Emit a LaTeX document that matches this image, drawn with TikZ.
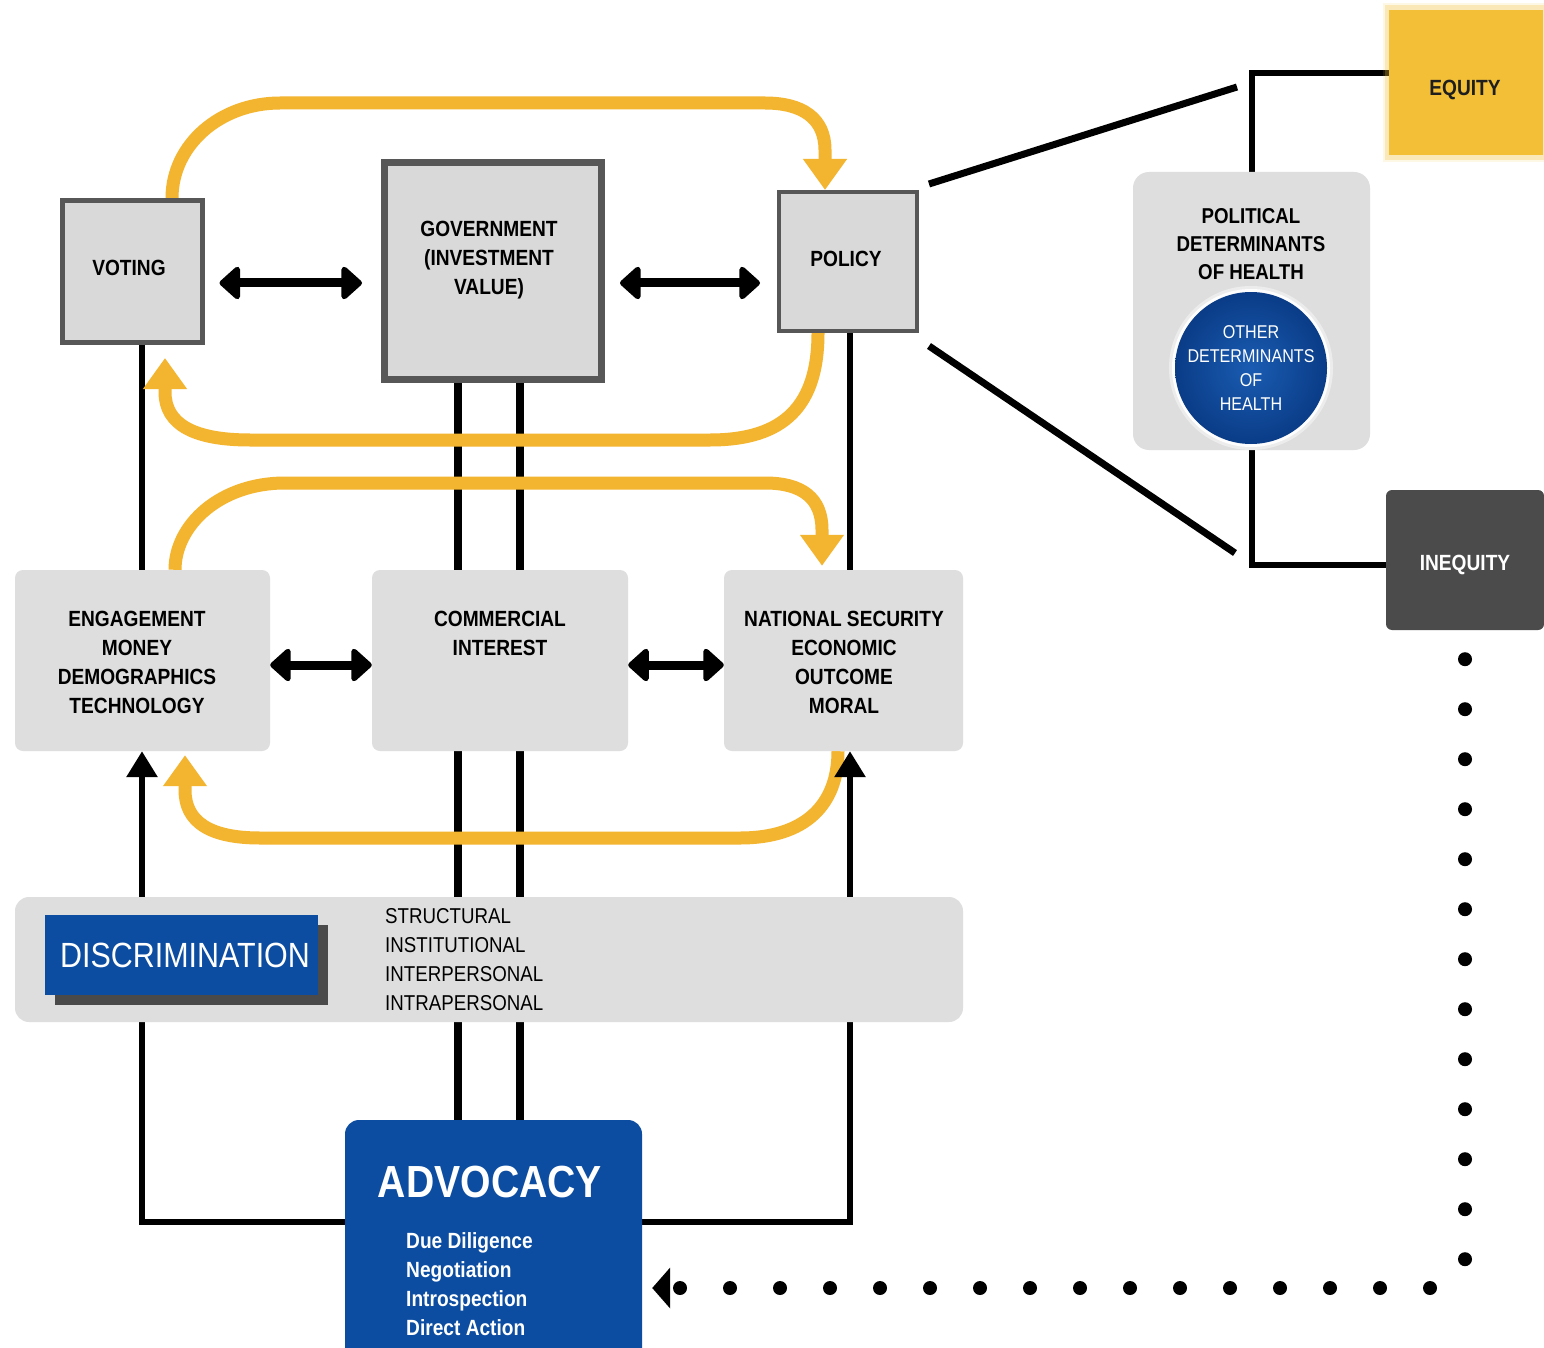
\documentclass[tikz,border=0pt]{standalone}
\usepackage{fontspec}
\setmainfont{Liberation Sans}[FakeStretch=0.87]
\usetikzlibrary{arrows.meta,shadows}
\definecolor{boxfill}{HTML}{D9D9D9}
\definecolor{boxline}{HTML}{575757}
\definecolor{panel}{HTML}{DEDEDE}
\definecolor{ylw}{HTML}{F3B52F}
\definecolor{eqy}{HTML}{F3BF36}
\definecolor{blu}{HTML}{0C4DA2}
\definecolor{inq}{HTML}{4B4B4B}
\definecolor{shadowg}{HTML}{4A4A4A}
\pgfdeclarelayer{bgw}
\pgfdeclarelayer{bgy}
\pgfdeclarelayer{bg}
\pgfsetlayers{bgw,bg,bgy,main}
\begin{document}
\begin{tikzpicture}[x=1pt,y=-1pt,
  sqbox/.style={draw=boxline,fill=boxfill,inner sep=0pt},
  softbox/.style={fill=panel,rounded corners=8pt,inner sep=0pt},
  lbl/.style={font=\bfseries\fontsize{22}{29}\selectfont,align=center,inner sep=0pt},
  blk/.style={draw=black,line width=6pt},
  dbl/.style={draw=black,line width=9pt,{Triangle[width=38pt,length=22pt,round]}-{Triangle[width=38pt,length=22pt,round]}},
  uparr/.style={blk,-{Triangle[width=30pt,length=26pt]}},
  yarr/.style={draw=ylw,line width=13pt,-{Triangle[width=42pt,length=31pt]}},
  dotline/.style={draw=black,line width=14pt,line cap=round,dash pattern=on 0pt off 50pt,-{Triangle[width=40pt,length=18pt]}}
]
\useasboundingbox (0,0) rectangle (1544,1348);
\begin{pgfonlayer}{bgw}
\fill[white] (0,0) rectangle (1544,1348);
\end{pgfonlayer}
\begin{scope}
\clip (0,0) rectangle (1544,1348);

% helper coordinates
\coordinate (rA) at (0,283);
\coordinate (rB) at (0,665);
\coordinate (rD) at (0,1222);
\coordinate (cA) at (142,0);
\coordinate (cP) at (850,0);
\coordinate (g1) at (458,0);
\coordinate (g2) at (520,0);
\coordinate (y1) at (172,0);
\coordinate (y2) at (825,0);
\coordinate (y3) at (818,0);
\coordinate (y4) at (165,0);
\coordinate (y5) at (175,0);
\coordinate (y6) at (822,0);
\coordinate (y7) at (838,0);
\coordinate (y8) at (185,0);
\coordinate (pa) at (1237,87);
\coordinate (pb) at (1235,553);

% top row
\node[sqbox,line width=5pt,minimum width=140pt,minimum height=142pt] (voting) at (132.5,271.5) {};
\node[sqbox,line width=7pt,minimum width=217pt,minimum height=217pt] (gov) at (493,271) {};
\node[sqbox,line width=4pt,minimum width=138pt,minimum height=139pt] (policy) at (848,261.5) {};
\node[lbl] (tvoting) at (129,268) {VOTING};
\node[lbl] (tgov) at (489,260) {GOVERNMENT\\(INVESTMENT\\VALUE)};
\node[lbl] (tpolicy) at (846,259) {POLICY};

% middle row
\node[softbox,minimum width=255pt,minimum height=181pt] (eng) at (142.5,660.5) {};
\node[softbox,minimum width=256pt,minimum height=181pt] (comm) at (500,660.5) {};
\node[softbox,minimum width=239pt,minimum height=181pt] (ns) at (843.5,660.5) {};
\node[lbl] (teng) at (137,662) {ENGAGEMENT\\MONEY\\DEMOGRAPHICS\\TECHNOLOGY};
\node[lbl] (tcomm) at (500,633) {COMMERCIAL\\INTEREST};
\node[lbl] (tns) at (844,662) {NATIONAL SECURITY\\ECONOMIC\\OUTCOME\\MORAL};

% discrimination band
\node[softbox,rounded corners=14pt,minimum width=948pt,minimum height=125pt] (disc) at (489,959.5) {};
\node[fill=blu,minimum width=273pt,minimum height=80pt,inner sep=0pt,
  drop shadow={shadow xshift=10pt,shadow yshift=-10pt,fill=shadowg,opacity=1},
  text=white,font=\fontsize{35}{40}\selectfont] (discb) at (181.5,955) {\hspace*{7pt}DISCRIMINATION};
\node[anchor=west,align=left,inner sep=0pt,font=\fontsize{21.5}{29}\selectfont] (dlist) at (385,960)
  {STRUCTURAL\\INSTITUTIONAL\\INTERPERSONAL\\INTRAPERSONAL};

% advocacy
\node[fill=blu,rounded corners=14pt,minimum width=297pt,minimum height=280pt,inner sep=0pt] (adv) at (493.5,1260) {};
\node[text=white,font=\bfseries\fontsize{45}{50}\selectfont,inner sep=0pt] (tadv) at (490,1182) {ADVOCACY};
\node[text=white,anchor=west,align=left,inner sep=0pt,font=\bfseries\fontsize{22}{29}\selectfont] (tadvl) at (406,1284)
  {Due Diligence\\Negotiation\\Introspection\\Direct Action};

% right side
\node[softbox,rounded corners=16pt,minimum width=237pt,minimum height=278pt] (pdh) at (1251.5,311) {};
\node[lbl,font=\bfseries\fontsize{21.5}{28}\selectfont] (tpdh) at (1251,244) {POLITICAL\\DETERMINANTS\\OF HEALTH};
\fill[white,opacity=.45] (1251,368) circle (82pt);
\fill[white,opacity=.9] (1251,368) circle (79pt);
\node[circle,minimum size=152pt,inner sep=0pt,inner color={rgb,255:red,26;green,92;blue,178},outer color={rgb,255:red,10;green,60;blue,135}] (odh) at (1251,368) {};
\node[text=white,align=center,inner sep=0pt,font=\fontsize{18.5}{24}\selectfont] (todh) at (1251,368) {OTHER\\DETERMINANTS\\OF\\HEALTH};

\fill[eqy,opacity=.12] (1383,3) rectangle (1550,162);
\fill[eqy,opacity=.25] (1385,5) rectangle (1550,160);
\node[fill=eqy,minimum width=154pt,minimum height=145pt,inner sep=0pt] (equity) at (1466,82.5) {};
\node[lbl,text={rgb,255:red,30;green,30;blue,30}] (tequity) at (1465,90) {EQUITY};
\node[fill=inq,rounded corners=6pt,minimum width=158pt,minimum height=140pt,inner sep=0pt] (ineqb) at (1465,560) {};
\node[lbl,text=white] (tineq) at (1465,565) {INEQUITY};

% yellow loops (above the black lines)
\begin{pgfonlayer}{bgy}
\draw[yarr] (voting.north -| y1) .. controls (172,145) and (220,103) .. (280,103) -- (765,103)
  .. controls (802,103) and (825,118) .. (825,150) -- (policy.north -| y2);
\draw[yarr,shorten >=13pt] (policy.south -| y3) .. controls (818,405) and (785,440) .. (710,440) -- (250,440)
  .. controls (195,440) and (165,425) .. (165,392) -- (voting.south -| y4);
\draw[yarr,shorten >=4pt] (eng.north -| y5) .. controls (175,525) and (220,483) .. (285,483) -- (765,483)
  .. controls (802,483) and (822,498) .. (822,530) -- (ns.north -| y6);
\draw[yarr,shorten >=4pt] (ns.south -| y7) .. controls (838,805) and (805,838) .. (740,838) -- (260,838)
  .. controls (210,838) and (185,822) .. (185,790) -- (eng.south -| y8);
\end{pgfonlayer}

% black connectors
\begin{pgfonlayer}{bg}
\draw[blk] (voting.south -| cA) -- (eng.north -| cA);
\draw[blk] (policy.south -| cP) -- (ns.north -| cP);
\draw[blk,line width=8pt] (gov.south -| g1) -- (adv.north -| g1);
\draw[blk,line width=8pt] (gov.south -| g2) -- (adv.north -| g2);
\draw[blk] (disc.south -| cA) |- (adv.west |- rD);
\draw[blk] (disc.south -| cP) |- (adv.east |- rD);
\draw[blk,line width=7pt] ([shift={(10pt,6pt)}]policy.north east) -- (pa);
\draw[blk,line width=7pt] ([shift={(10pt,-13pt)}]policy.south east) -- (pb);
\draw[blk] (pdh.north) |- ([yshift=9.5pt]equity.west);
\draw[blk] (pdh.south) |- ([yshift=-5pt]ineqb.west);
\end{pgfonlayer}

\draw[uparr] (disc.north -| cA) -- (eng.south -| cA);
\draw[uparr] (disc.north -| cP) -- (ns.south -| cP);

\draw[dbl,shorten <=14.5pt,shorten >=19pt] (voting.east |- rA) -- (gov.west |- rA);
\draw[dbl,shorten <=15pt,shorten >=17pt] (gov.east |- rA) -- (policy.west |- rA);
\draw[dbl] (eng.east |- rB) -- (comm.west |- rB);
\draw[dbl] (comm.east |- rB) -- (ns.west |- rB);

% dotted feedback
\draw[dotline] ([yshift=-29pt]ineqb.south) -- (1465,1260) (1430,1288) -- ([xshift=10pt]adv.east |- 0,1288);
\end{scope}
\end{tikzpicture}
\end{document}
